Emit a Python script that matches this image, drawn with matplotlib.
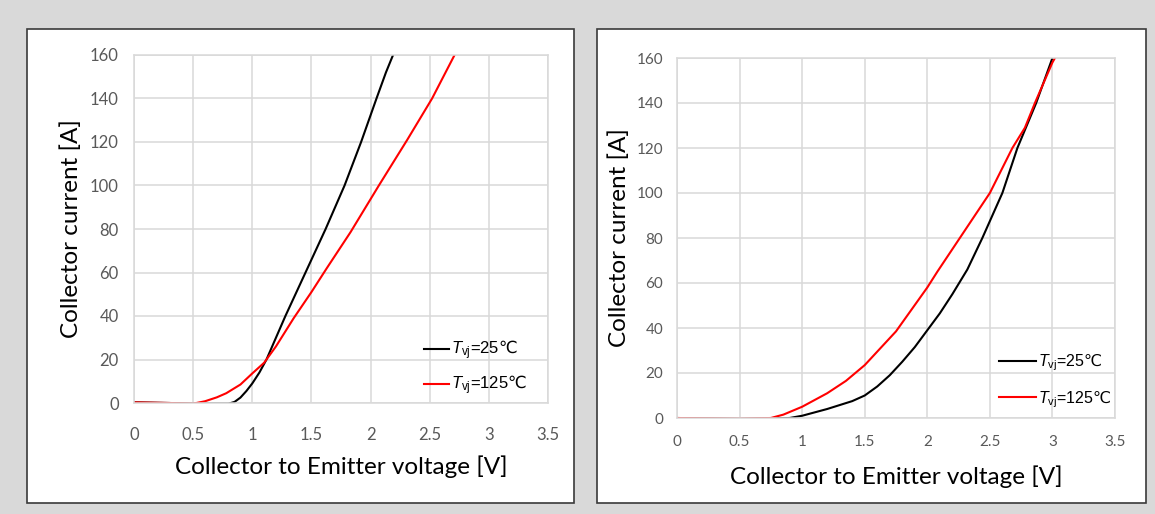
import matplotlib
matplotlib.use("Agg")
import matplotlib.pyplot as plt
from matplotlib.patches import Rectangle

# Left chart: read-off points (V, A)
left_v25 = [0, 0.3, 0.5, 0.8, 0.85, 0.9, 0.95, 1.0, 1.06, 1.12, 1.2, 1.28, 1.45, 1.62, 1.78, 1.92, 2.05, 2.13, 2.19]
left_i25 = [0.3, 0, -0.3, -0.3, 0.5, 2.5, 5.5, 9, 14, 20, 30, 40, 60, 80, 100, 120, 140, 152, 160]
left_v125 = [0, 0.3, 0.5, 0.6, 0.7, 0.78, 0.9, 1.0, 1.1, 1.2, 1.35, 1.5, 1.63, 1.83, 2.07, 2.31, 2.52, 2.71]
left_i125 = [0.3, 0, -0.3, 0.8, 2.6, 4.5, 8.5, 13.6, 18.5, 26, 39, 51, 62, 78.5, 100, 121, 140, 160]

# Right chart: read-off points (V, A)
right_v25 = [0, 0.5, 0.9, 1.0, 1.2, 1.4, 1.5, 1.6, 1.7, 1.8, 1.9, 2.0, 2.1, 2.2, 2.32, 2.44, 2.6, 2.72, 2.87, 3.0]
right_i25 = [0, -0.4, 0, 1, 4, 7.5, 10, 14, 19, 25, 31.5, 39, 46.5, 55, 66, 80, 100, 120, 140, 160]
right_v125 = [0, 0.5, 0.75, 0.85, 1.0, 1.2, 1.35, 1.5, 1.75, 2.0, 2.08, 2.26, 2.5, 2.68, 2.78, 2.86, 3.0, 3.02]
right_i125 = [0, -0.3, 0, 1.5, 5, 11, 16.5, 23.5, 38.5, 58, 65, 80, 100, 120, 129, 140, 158, 160]

x_ticks = [0, 0.5, 1, 1.5, 2, 2.5, 3, 3.5]
x_tick_labels = ["0", "0.5", "1", "1.5", "2", "2.5", "3", "3.5"]
y_ticks = [0, 20, 40, 60, 80, 100, 120, 140, 160]
legend_labels = [r"$\mathit{T}_{\mathrm{vj}}$=25$\mathsf{℃}$", r"$\mathit{T}_{\mathrm{vj}}$=125$\mathsf{℃}$"]

W, H = 1155, 514
fig = plt.figure(figsize=(W / 100, H / 100), dpi=100)
fig.patch.set_facecolor("#d9d9d9")

# white panels with dark border
for x0, x1 in [(27, 574), (597, 1146)]:
    fig.patches.append(Rectangle((x0 / W, 1 - 503 / H), (x1 - x0) / W, (503 - 29) / H,
                                 transform=fig.transFigure, facecolor="white",
                                 edgecolor="#3a3a3a", linewidth=1.2, zorder=-5))

label_font = "Lato"
legend_font = ["Liberation Sans", "DejaVu Sans"]
plt.rcParams["mathtext.fontset"] = "custom"
plt.rcParams["mathtext.it"] = "Liberation Sans:italic"
plt.rcParams["mathtext.rm"] = "Liberation Sans"
plt.rcParams["mathtext.sf"] = "DejaVu Sans"


def setup(ax, tick_size, lab_size, xpad, ypad, xlabpad, ylabpad):
    ax.set_zorder(2)
    ax.set_xlim(0, 3.5)
    ax.set_ylim(0, 160)
    ax.set_xticks(x_ticks)
    ax.set_xticklabels(x_tick_labels)
    ax.set_yticks(y_ticks)
    ax.grid(True, color="#d9d9d9", linewidth=1.1)
    ax.set_axisbelow(True)
    for s in ax.spines.values():
        s.set_color("#d9d9d9")
        s.set_linewidth(1.1)
    ax.tick_params(length=0, labelsize=tick_size, labelcolor="#595959")
    ax.tick_params(axis="x", pad=xpad)
    ax.tick_params(axis="y", pad=ypad)
    for t in ax.get_xticklabels() + ax.get_yticklabels():
        t.set_family(label_font)
    ax.set_xlabel("Collector to Emitter voltage [V]", fontsize=lab_size,
                  family=label_font, labelpad=xlabpad)
    ax.set_ylabel("Collector current [A]", fontsize=lab_size,
                  family=label_font, labelpad=ylabpad)


# left chart
ax1 = fig.add_axes([134 / W, 1 - 403 / H, 414 / W, 348 / H])
ax1.plot(left_v25, left_i25, color="black", linewidth=1.5, label=legend_labels[0])
ax1.plot(left_v125, left_i125, color="red", linewidth=1.5, label=legend_labels[1])
setup(ax1, 12, 17.5, 17, 11, 9, 6)
ax1.legend(loc="upper left", bbox_to_anchor=(0.70, 0.185), frameon=False,
           borderaxespad=0, borderpad=0, handlelength=1.5, handletextpad=0.15,
           labelspacing=0.7, prop={"family": legend_font, "size": 12})

# right chart
ax2 = fig.add_axes([677 / W, 1 - 418 / H, 438 / W, 360 / H])
ax2.plot(right_v25, right_i25, color="black", linewidth=1.5, label=legend_labels[0])
ax2.plot(right_v125, right_i125, color="red", linewidth=1.5, label=legend_labels[1])
setup(ax2, 11, 17.5, 12, 10, 12, 5)
ax2.legend(loc="upper left", bbox_to_anchor=(0.736, 0.182), frameon=False,
           borderaxespad=0, borderpad=0, handlelength=2.3, handletextpad=0.15,
           labelspacing=1.0, prop={"family": legend_font, "size": 11.5})

fig.savefig("out.png", dpi=100, facecolor=fig.get_facecolor())
